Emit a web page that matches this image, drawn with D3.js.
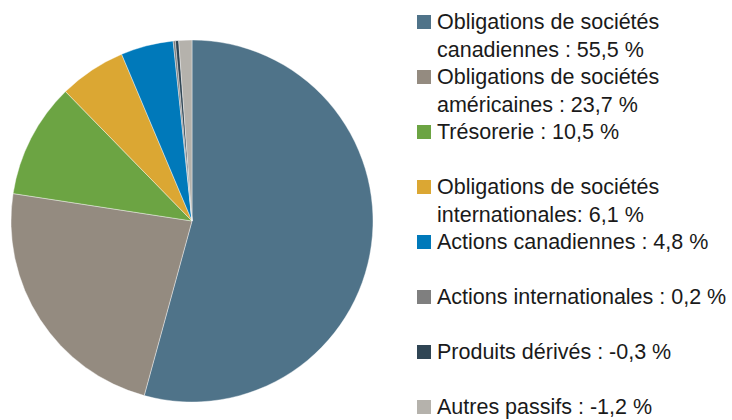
<!DOCTYPE html>
<meta charset="utf-8">
<script src="https://d3js.org/d3.v7.min.js"></script>
<style>
  body { margin: 0; background: #fff; }
  .legend text { font-family: "Liberation Sans", Arial, sans-serif; font-size: 21.5px; fill: #1a1a1a; }
</style>
<svg id="chart" width="732" height="420"></svg>
<script>

// Data
var names = [
  ["Obligations de sociétés", "canadiennes : 55,5 %"],
  ["Obligations de sociétés", "américaines : 23,7 %"],
  ["Trésorerie : 10,5 %"],
  ["Obligations de sociétés", "internationales: 6,1 %"],
  ["Actions canadiennes : 4,8 %"],
  ["Actions internationales : 0,2 %"],
  ["Produits dérivés : -0,3 %"],
  ["Autres passifs : -1,2 %"]
];
var values = [55.5, 23.7, 10.5, 6.1, 4.8, 0.2, -0.3, -1.2];
var colors = ["#4F7389", "#948B80", "#6CA443", "#DBA733", "#0079BA", "#7F7F7F", "#2F4554", "#B5B2AC"];

var svg = d3.select("#chart");

// pie (slice sizes by absolute value)
var cx = 192, cy = 221, r = 181;
var pie = d3.pie()
    .sort(null)
    .value(d => Math.abs(d));
var arc = d3.arc().innerRadius(0).outerRadius(r);

svg.append("g")
    .attr("transform", "translate(" + cx + "," + cy + ")")
  .selectAll("path")
  .data(pie(values))
  .enter()
  .append("path")
    .attr("d", arc)
    .attr("fill", (d, i) => colors[i])
    .attr("stroke", "#fff")
    .attr("stroke-width", 0.4);

// legend
var y = d3.scaleLinear().domain([0, 7]).range([29, 414]);
var lineH = 28;

var leg = svg.append("g").attr("class", "legend");
var item = leg.selectAll("g")
  .data(names)
  .enter()
  .append("g")
    .attr("transform", (d, i) => "translate(0," + y(i) + ")");

item.append("rect")
    .attr("x", 417)
    .attr("y", -14)
    .attr("width", 14)
    .attr("height", 14)
    .attr("fill", (d, i) => colors[i]);

item.append("text")
    .attr("x", 437)
    .selectAll("tspan")
    .data(d => d)
    .enter()
    .append("tspan")
      .attr("x", 437)
      .attr("y", (d, j) => j * lineH)
      .text(d => d);

</script>
